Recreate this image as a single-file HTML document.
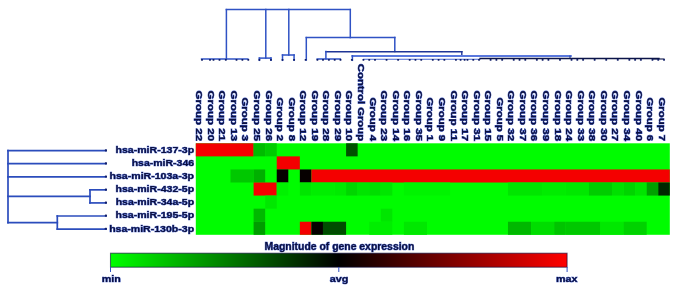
<!DOCTYPE html><html><head><meta charset="utf-8"><style>html,body{margin:0;padding:0;background:#fff;width:685px;height:287px;overflow:hidden}svg{display:block;will-change:transform;filter:blur(0.35px)}text{font-family:"Liberation Sans",sans-serif;font-weight:bold}</style></head><body>
<svg width="685" height="287" viewBox="0 0 685 287">
<rect x="0" y="0" width="685" height="287" fill="#fff"/>
<rect x="195.8" y="143.3" width="474.00" height="91.50" fill="#00fc00"/>
<rect x="195.80" y="143.30" width="57.80" height="13.07" fill="#f40000"/>
<rect x="253.60" y="143.30" width="11.56" height="13.07" fill="#00bb00"/>
<rect x="265.17" y="143.30" width="11.56" height="13.07" fill="#00cc00"/>
<rect x="346.09" y="143.30" width="11.56" height="13.07" fill="#005000"/>
<rect x="276.73" y="156.37" width="23.12" height="13.07" fill="#f40000"/>
<rect x="230.48" y="169.44" width="23.12" height="13.07" fill="#00c800"/>
<rect x="253.60" y="169.44" width="11.56" height="13.07" fill="#00b000"/>
<rect x="276.73" y="169.44" width="11.56" height="13.07" fill="#060000"/>
<rect x="299.85" y="169.44" width="11.56" height="13.07" fill="#060000"/>
<rect x="311.41" y="169.44" width="358.39" height="13.07" fill="#f40000"/>
<rect x="253.60" y="182.51" width="23.12" height="13.07" fill="#f40000"/>
<rect x="276.73" y="182.51" width="11.56" height="13.07" fill="#00f200"/>
<rect x="299.85" y="182.51" width="11.56" height="13.07" fill="#00e600"/>
<rect x="311.41" y="182.51" width="23.12" height="13.07" fill="#00ee00"/>
<rect x="334.53" y="182.51" width="11.56" height="13.07" fill="#00ea00"/>
<rect x="346.09" y="182.51" width="11.56" height="13.07" fill="#00d600"/>
<rect x="357.65" y="182.51" width="11.56" height="13.07" fill="#00e400"/>
<rect x="369.21" y="182.51" width="11.56" height="13.07" fill="#00de00"/>
<rect x="380.78" y="182.51" width="11.56" height="13.07" fill="#00e600"/>
<rect x="403.90" y="182.51" width="46.24" height="13.07" fill="#00f400"/>
<rect x="507.95" y="182.51" width="34.68" height="13.07" fill="#00e600"/>
<rect x="542.63" y="182.51" width="23.12" height="13.07" fill="#00ec00"/>
<rect x="565.75" y="182.51" width="23.12" height="13.07" fill="#00e800"/>
<rect x="588.87" y="182.51" width="23.12" height="13.07" fill="#00cc00"/>
<rect x="612.00" y="182.51" width="11.56" height="13.07" fill="#00e000"/>
<rect x="623.56" y="182.51" width="11.56" height="13.07" fill="#00d400"/>
<rect x="635.12" y="182.51" width="11.56" height="13.07" fill="#00e400"/>
<rect x="646.68" y="182.51" width="11.56" height="13.07" fill="#00a000"/>
<rect x="658.24" y="182.51" width="11.56" height="13.07" fill="#002800"/>
<rect x="265.17" y="195.59" width="11.56" height="13.07" fill="#00e800"/>
<rect x="253.60" y="208.66" width="11.56" height="13.07" fill="#00b800"/>
<rect x="380.78" y="208.66" width="11.56" height="13.07" fill="#00e600"/>
<rect x="253.60" y="221.73" width="11.56" height="13.07" fill="#009c00"/>
<rect x="299.85" y="221.73" width="11.56" height="13.07" fill="#f40000"/>
<rect x="311.41" y="221.73" width="11.56" height="13.07" fill="#060000"/>
<rect x="322.97" y="221.73" width="23.12" height="13.07" fill="#004c00"/>
<rect x="369.21" y="221.73" width="23.12" height="13.07" fill="#00ee00"/>
<rect x="403.90" y="221.73" width="23.12" height="13.07" fill="#00e800"/>
<rect x="507.95" y="221.73" width="23.12" height="13.07" fill="#00b800"/>
<rect x="531.07" y="221.73" width="23.12" height="13.07" fill="#00dd00"/>
<rect x="554.19" y="221.73" width="11.56" height="13.07" fill="#00c400"/>
<rect x="565.75" y="221.73" width="34.68" height="13.07" fill="#00c800"/>
<rect x="600.43" y="221.73" width="23.12" height="13.07" fill="#00e800"/>
<rect x="623.56" y="221.73" width="23.12" height="13.07" fill="#00d200"/>
<line x1="8" y1="150.6357142857143" x2="8" y2="222.52857142857147" stroke="#2b4cbc" stroke-width="1.7" stroke-linecap="square"/>
<line x1="8" y1="150.6357142857143" x2="106" y2="150.6357142857143" stroke="#2b4cbc" stroke-width="1.7" stroke-linecap="square"/>
<line x1="8" y1="163.70714285714288" x2="106" y2="163.70714285714288" stroke="#2b4cbc" stroke-width="1.7" stroke-linecap="square"/>
<line x1="8" y1="176.77857142857147" x2="106" y2="176.77857142857147" stroke="#2b4cbc" stroke-width="1.7" stroke-linecap="square"/>
<line x1="8" y1="196.3857142857143" x2="90" y2="196.3857142857143" stroke="#2b4cbc" stroke-width="1.7" stroke-linecap="square"/>
<line x1="90" y1="189.85000000000002" x2="90" y2="202.92142857142858" stroke="#2b4cbc" stroke-width="1.7" stroke-linecap="square"/>
<line x1="90" y1="189.85000000000002" x2="106" y2="189.85000000000002" stroke="#2b4cbc" stroke-width="1.7" stroke-linecap="square"/>
<line x1="90" y1="202.92142857142858" x2="106" y2="202.92142857142858" stroke="#2b4cbc" stroke-width="1.7" stroke-linecap="square"/>
<line x1="8" y1="222.52857142857147" x2="57.3" y2="222.52857142857147" stroke="#2b4cbc" stroke-width="1.7" stroke-linecap="square"/>
<line x1="57.3" y1="215.99285714285716" x2="57.3" y2="229.06428571428575" stroke="#2b4cbc" stroke-width="1.7" stroke-linecap="square"/>
<line x1="57.3" y1="215.99285714285716" x2="106" y2="215.99285714285716" stroke="#2b4cbc" stroke-width="1.7" stroke-linecap="square"/>
<line x1="57.3" y1="229.06428571428575" x2="106" y2="229.06428571428575" stroke="#2b4cbc" stroke-width="1.7" stroke-linecap="square"/>
<rect x="104.8" y="149.2357142857143" width="2.2" height="2.2" rx="0.7" fill="#14206a"/>
<rect x="104.8" y="162.30714285714288" width="2.2" height="2.2" rx="0.7" fill="#14206a"/>
<rect x="104.8" y="175.37857142857146" width="2.2" height="2.2" rx="0.7" fill="#14206a"/>
<rect x="104.8" y="188.45000000000002" width="2.2" height="2.2" rx="0.7" fill="#14206a"/>
<rect x="104.8" y="201.52142857142857" width="2.2" height="2.2" rx="0.7" fill="#14206a"/>
<rect x="104.8" y="214.59285714285716" width="2.2" height="2.2" rx="0.7" fill="#14206a"/>
<rect x="104.8" y="227.66428571428574" width="2.2" height="2.2" rx="0.7" fill="#14206a"/>
<line x1="226.4" y1="9.6" x2="350.3" y2="9.6" stroke="#2f52c4" stroke-width="1.5" stroke-linecap="square"/>
<line x1="226.4" y1="9.6" x2="226.4" y2="59" stroke="#2f52c4" stroke-width="1.5" stroke-linecap="square"/>
<line x1="265.8" y1="9.6" x2="265.8" y2="58.1" stroke="#2f52c4" stroke-width="1.5" stroke-linecap="square"/>
<line x1="288.8" y1="9.6" x2="288.8" y2="55.0" stroke="#2f52c4" stroke-width="1.5" stroke-linecap="square"/>
<line x1="350.3" y1="9.6" x2="350.3" y2="37.6" stroke="#2f52c4" stroke-width="1.5" stroke-linecap="square"/>
<line x1="201.58048780487806" y1="59.1" x2="247.82439024390243" y2="59.1" stroke="#2f52c4" stroke-width="1.5" stroke-linecap="square"/>
<line x1="259.3853658536585" y1="58.1" x2="270.9463414634146" y2="58.1" stroke="#2f52c4" stroke-width="1.5" stroke-linecap="square"/>
<line x1="259.3853658536585" y1="58.1" x2="259.3853658536585" y2="60.3" stroke="#2f52c4" stroke-width="1.5" stroke-linecap="square"/>
<line x1="270.9463414634146" y1="58.1" x2="270.9463414634146" y2="60.3" stroke="#2f52c4" stroke-width="1.5" stroke-linecap="square"/>
<line x1="282.5073170731707" y1="55.0" x2="294.0682926829268" y2="55.0" stroke="#2f52c4" stroke-width="1.5" stroke-linecap="square"/>
<line x1="282.5073170731707" y1="55.0" x2="282.5073170731707" y2="60.3" stroke="#2f52c4" stroke-width="1.5" stroke-linecap="square"/>
<line x1="294.0682926829268" y1="55.0" x2="294.0682926829268" y2="60.3" stroke="#2f52c4" stroke-width="1.5" stroke-linecap="square"/>
<line x1="306.3" y1="37.6" x2="394.8" y2="37.6" stroke="#2f52c4" stroke-width="1.5" stroke-linecap="square"/>
<line x1="306.3" y1="37.6" x2="306.3" y2="60" stroke="#2f52c4" stroke-width="1.5" stroke-linecap="square"/>
<line x1="394.8" y1="37.6" x2="394.8" y2="51.6" stroke="#2f52c4" stroke-width="1.5" stroke-linecap="square"/>
<line x1="325.9" y1="51.8" x2="461.8" y2="51.8" stroke="#1f3596" stroke-width="1.6" stroke-linecap="square"/>
<line x1="325.9" y1="51.6" x2="325.9" y2="58.8" stroke="#2f52c4" stroke-width="1.5" stroke-linecap="square"/>
<line x1="317.190243902439" y1="59.0" x2="340.31219512195116" y2="59.0" stroke="#2f52c4" stroke-width="1.5" stroke-linecap="square"/>
<line x1="461.8" y1="51.6" x2="461.8" y2="55.8" stroke="#1f3596" stroke-width="1.4" stroke-linecap="square"/>
<line x1="352.4" y1="56.0" x2="570.8" y2="56.0" stroke="#5a78dd" stroke-width="2.0" stroke-linecap="square"/>
<line x1="570" y1="56.0" x2="570" y2="58.5" stroke="#2a45a8" stroke-width="1.2" stroke-linecap="square"/>
<line x1="352.4" y1="55.8" x2="352.4" y2="60.3" stroke="#2f52c4" stroke-width="1.5" stroke-linecap="square"/>
<line x1="363.43414634146336" y1="59.2" x2="480" y2="59.2" stroke="#4a68d0" stroke-width="1.1" stroke-linecap="square"/>
<line x1="480" y1="58.5" x2="659" y2="58.5" stroke="#0c1448" stroke-width="1.3" stroke-linecap="square"/>
<line x1="653" y1="59.0" x2="664.0195121951219" y2="59.0" stroke="#0c1448" stroke-width="1.1" stroke-linecap="square"/>
<rect x="201.00" y="58.9" width="2" height="1.8" rx="0.6" fill="#0e1c66"/>
<rect x="209.00" y="58.9" width="2" height="1.8" rx="0.6" fill="#0e1c66"/>
<rect x="212.50" y="58.9" width="2" height="1.8" rx="0.6" fill="#0e1c66"/>
<rect x="218.50" y="58.9" width="2" height="1.8" rx="0.6" fill="#0e1c66"/>
<rect x="224.80" y="58.9" width="2" height="1.8" rx="0.6" fill="#0e1c66"/>
<rect x="235.50" y="58.9" width="2" height="1.8" rx="0.6" fill="#0e1c66"/>
<rect x="241.40" y="58.9" width="2" height="1.8" rx="0.6" fill="#0e1c66"/>
<rect x="247.30" y="58.9" width="2" height="1.8" rx="0.6" fill="#0e1c66"/>
<rect x="258.39" y="58.9" width="2" height="1.8" rx="0.6" fill="#0e1c66"/>
<rect x="269.95" y="58.9" width="2" height="1.8" rx="0.6" fill="#0e1c66"/>
<rect x="281.51" y="58.9" width="2" height="1.8" rx="0.6" fill="#0e1c66"/>
<rect x="293.07" y="58.9" width="2" height="1.8" rx="0.6" fill="#0e1c66"/>
<rect x="304.63" y="58.9" width="2" height="1.8" rx="0.6" fill="#0e1c66"/>
<rect x="350.87" y="58.9" width="2" height="1.8" rx="0.6" fill="#0e1c66"/>
<rect x="316.40" y="58.9" width="2" height="1.8" rx="0.6" fill="#0e1c66"/>
<rect x="322.00" y="58.9" width="2" height="1.8" rx="0.6" fill="#0e1c66"/>
<rect x="327.90" y="58.9" width="2" height="1.8" rx="0.6" fill="#0e1c66"/>
<rect x="333.70" y="58.9" width="2" height="1.8" rx="0.6" fill="#0e1c66"/>
<rect x="339.50" y="58.9" width="2" height="1.8" rx="0.6" fill="#0e1c66"/>
<rect x="362.43" y="58.9" width="2" height="1.8" rx="0.6" fill="#0e1c66"/>
<rect x="374.00" y="58.9" width="2" height="1.8" rx="0.6" fill="#0e1c66"/>
<rect x="385.56" y="58.9" width="2" height="1.8" rx="0.6" fill="#0e1c66"/>
<rect x="397.12" y="58.9" width="2" height="1.8" rx="0.6" fill="#0e1c66"/>
<rect x="408.68" y="58.9" width="2" height="1.8" rx="0.6" fill="#0e1c66"/>
<rect x="420.24" y="58.9" width="2" height="1.8" rx="0.6" fill="#0e1c66"/>
<rect x="431.80" y="58.9" width="2" height="1.8" rx="0.6" fill="#0e1c66"/>
<rect x="443.36" y="58.9" width="2" height="1.8" rx="0.6" fill="#0e1c66"/>
<rect x="454.92" y="58.9" width="2" height="1.8" rx="0.6" fill="#0e1c66"/>
<rect x="466.48" y="58.9" width="2" height="1.8" rx="0.6" fill="#0e1c66"/>
<rect x="478.04" y="58.9" width="2" height="1.8" rx="0.6" fill="#0e1c66"/>
<rect x="489.60" y="58.9" width="2" height="1.8" rx="0.6" fill="#0e1c66"/>
<rect x="501.17" y="58.9" width="2" height="1.8" rx="0.6" fill="#0e1c66"/>
<rect x="512.73" y="58.9" width="2" height="1.8" rx="0.6" fill="#0e1c66"/>
<rect x="524.29" y="58.9" width="2" height="1.8" rx="0.6" fill="#0e1c66"/>
<rect x="535.85" y="58.9" width="2" height="1.8" rx="0.6" fill="#0e1c66"/>
<rect x="547.41" y="58.9" width="2" height="1.8" rx="0.6" fill="#0e1c66"/>
<rect x="558.97" y="58.9" width="2" height="1.8" rx="0.6" fill="#0e1c66"/>
<rect x="570.53" y="58.9" width="2" height="1.8" rx="0.6" fill="#0e1c66"/>
<rect x="582.09" y="58.9" width="2" height="1.8" rx="0.6" fill="#0e1c66"/>
<rect x="593.65" y="58.9" width="2" height="1.8" rx="0.6" fill="#0e1c66"/>
<rect x="605.21" y="58.9" width="2" height="1.8" rx="0.6" fill="#0e1c66"/>
<rect x="616.78" y="58.9" width="2" height="1.8" rx="0.6" fill="#0e1c66"/>
<rect x="628.34" y="58.9" width="2" height="1.8" rx="0.6" fill="#0e1c66"/>
<rect x="639.90" y="58.9" width="2" height="1.8" rx="0.6" fill="#0e1c66"/>
<rect x="651.46" y="58.9" width="2" height="1.8" rx="0.6" fill="#0e1c66"/>
<rect x="663.02" y="58.9" width="2" height="1.8" rx="0.6" fill="#0e1c66"/>
<rect x="368.21" y="58.9" width="2" height="1.8" rx="0.6" fill="#0e1c66"/>
<rect x="414.46" y="58.9" width="2" height="1.8" rx="0.6" fill="#0e1c66"/>
<rect x="437.58" y="58.9" width="2" height="1.8" rx="0.6" fill="#0e1c66"/>
<rect x="472.26" y="58.9" width="2" height="1.8" rx="0.6" fill="#0e1c66"/>
<rect x="495.39" y="58.9" width="2" height="1.8" rx="0.6" fill="#0e1c66"/>
<rect x="518.51" y="58.9" width="2" height="1.8" rx="0.6" fill="#0e1c66"/>
<rect x="541.63" y="58.9" width="2" height="1.8" rx="0.6" fill="#0e1c66"/>
<rect x="576.31" y="58.9" width="2" height="1.8" rx="0.6" fill="#0e1c66"/>
<rect x="634.12" y="58.9" width="2" height="1.8" rx="0.6" fill="#0e1c66"/>
<rect x="657.24" y="58.9" width="2" height="1.8" rx="0.6" fill="#0e1c66"/>
<rect x="459.60" y="58.9" width="2" height="1.8" rx="0.6" fill="#0e1c66"/>
<rect x="463.60" y="58.9" width="2" height="1.8" rx="0.6" fill="#0e1c66"/>
<text transform="translate(196.20,141.1) rotate(90)" text-anchor="end" font-size="8.7" fill="#0b1040" textLength="50.49" lengthAdjust="spacingAndGlyphs" stroke="#3552c4" stroke-width="0.65" paint-order="stroke">Group 22</text>
<text transform="translate(207.76,141.1) rotate(90)" text-anchor="end" font-size="8.7" fill="#0b1040" textLength="50.49" lengthAdjust="spacingAndGlyphs" stroke="#3552c4" stroke-width="0.65" paint-order="stroke">Group 20</text>
<text transform="translate(219.32,141.1) rotate(90)" text-anchor="end" font-size="8.7" fill="#0b1040" textLength="50.49" lengthAdjust="spacingAndGlyphs" stroke="#3552c4" stroke-width="0.65" paint-order="stroke">Group 21</text>
<text transform="translate(230.88,141.1) rotate(90)" text-anchor="end" font-size="8.7" fill="#0b1040" textLength="50.49" lengthAdjust="spacingAndGlyphs" stroke="#3552c4" stroke-width="0.65" paint-order="stroke">Group 13</text>
<text transform="translate(242.44,141.1) rotate(90)" text-anchor="end" font-size="8.7" fill="#0b1040" textLength="43.70" lengthAdjust="spacingAndGlyphs" stroke="#3552c4" stroke-width="0.65" paint-order="stroke">Group 3</text>
<text transform="translate(254.00,141.1) rotate(90)" text-anchor="end" font-size="8.7" fill="#0b1040" textLength="50.49" lengthAdjust="spacingAndGlyphs" stroke="#3552c4" stroke-width="0.65" paint-order="stroke">Group 25</text>
<text transform="translate(265.57,141.1) rotate(90)" text-anchor="end" font-size="8.7" fill="#0b1040" textLength="50.49" lengthAdjust="spacingAndGlyphs" stroke="#3552c4" stroke-width="0.65" paint-order="stroke">Group 26</text>
<text transform="translate(277.13,141.1) rotate(90)" text-anchor="end" font-size="8.7" fill="#0b1040" textLength="43.70" lengthAdjust="spacingAndGlyphs" stroke="#3552c4" stroke-width="0.65" paint-order="stroke">Group 2</text>
<text transform="translate(288.69,141.1) rotate(90)" text-anchor="end" font-size="8.7" fill="#0b1040" textLength="43.70" lengthAdjust="spacingAndGlyphs" stroke="#3552c4" stroke-width="0.65" paint-order="stroke">Group 8</text>
<text transform="translate(300.25,141.1) rotate(90)" text-anchor="end" font-size="8.7" fill="#0b1040" textLength="50.49" lengthAdjust="spacingAndGlyphs" stroke="#3552c4" stroke-width="0.65" paint-order="stroke">Group 12</text>
<text transform="translate(311.81,141.1) rotate(90)" text-anchor="end" font-size="8.7" fill="#0b1040" textLength="50.49" lengthAdjust="spacingAndGlyphs" stroke="#3552c4" stroke-width="0.65" paint-order="stroke">Group 19</text>
<text transform="translate(323.37,141.1) rotate(90)" text-anchor="end" font-size="8.7" fill="#0b1040" textLength="50.49" lengthAdjust="spacingAndGlyphs" stroke="#3552c4" stroke-width="0.65" paint-order="stroke">Group 28</text>
<text transform="translate(334.93,141.1) rotate(90)" text-anchor="end" font-size="8.7" fill="#0b1040" textLength="50.49" lengthAdjust="spacingAndGlyphs" stroke="#3552c4" stroke-width="0.65" paint-order="stroke">Group 29</text>
<text transform="translate(346.49,141.1) rotate(90)" text-anchor="end" font-size="8.7" fill="#0b1040" textLength="50.49" lengthAdjust="spacingAndGlyphs" stroke="#3552c4" stroke-width="0.65" paint-order="stroke">Group 10</text>
<text transform="translate(358.05,141.1) rotate(90)" text-anchor="end" font-size="8.7" fill="#0b1040" textLength="77.29" lengthAdjust="spacingAndGlyphs" stroke="#3552c4" stroke-width="0.65" paint-order="stroke">Control Group</text>
<text transform="translate(369.61,141.1) rotate(90)" text-anchor="end" font-size="8.7" fill="#0b1040" textLength="43.70" lengthAdjust="spacingAndGlyphs" stroke="#3552c4" stroke-width="0.65" paint-order="stroke">Group 4</text>
<text transform="translate(381.18,141.1) rotate(90)" text-anchor="end" font-size="8.7" fill="#0b1040" textLength="50.49" lengthAdjust="spacingAndGlyphs" stroke="#3552c4" stroke-width="0.65" paint-order="stroke">Group 23</text>
<text transform="translate(392.74,141.1) rotate(90)" text-anchor="end" font-size="8.7" fill="#0b1040" textLength="50.49" lengthAdjust="spacingAndGlyphs" stroke="#3552c4" stroke-width="0.65" paint-order="stroke">Group 14</text>
<text transform="translate(404.30,141.1) rotate(90)" text-anchor="end" font-size="8.7" fill="#0b1040" textLength="50.49" lengthAdjust="spacingAndGlyphs" stroke="#3552c4" stroke-width="0.65" paint-order="stroke">Group 16</text>
<text transform="translate(415.86,141.1) rotate(90)" text-anchor="end" font-size="8.7" fill="#0b1040" textLength="50.49" lengthAdjust="spacingAndGlyphs" stroke="#3552c4" stroke-width="0.65" paint-order="stroke">Group 35</text>
<text transform="translate(427.42,141.1) rotate(90)" text-anchor="end" font-size="8.7" fill="#0b1040" textLength="43.70" lengthAdjust="spacingAndGlyphs" stroke="#3552c4" stroke-width="0.65" paint-order="stroke">Group 1</text>
<text transform="translate(438.98,141.1) rotate(90)" text-anchor="end" font-size="8.7" fill="#0b1040" textLength="43.70" lengthAdjust="spacingAndGlyphs" stroke="#3552c4" stroke-width="0.65" paint-order="stroke">Group 9</text>
<text transform="translate(450.54,141.1) rotate(90)" text-anchor="end" font-size="8.7" fill="#0b1040" textLength="50.49" lengthAdjust="spacingAndGlyphs" stroke="#3552c4" stroke-width="0.65" paint-order="stroke">Group 11</text>
<text transform="translate(462.10,141.1) rotate(90)" text-anchor="end" font-size="8.7" fill="#0b1040" textLength="50.49" lengthAdjust="spacingAndGlyphs" stroke="#3552c4" stroke-width="0.65" paint-order="stroke">Group 17</text>
<text transform="translate(473.66,141.1) rotate(90)" text-anchor="end" font-size="8.7" fill="#0b1040" textLength="50.49" lengthAdjust="spacingAndGlyphs" stroke="#3552c4" stroke-width="0.65" paint-order="stroke">Group 31</text>
<text transform="translate(485.22,141.1) rotate(90)" text-anchor="end" font-size="8.7" fill="#0b1040" textLength="50.49" lengthAdjust="spacingAndGlyphs" stroke="#3552c4" stroke-width="0.65" paint-order="stroke">Group 15</text>
<text transform="translate(496.79,141.1) rotate(90)" text-anchor="end" font-size="8.7" fill="#0b1040" textLength="43.70" lengthAdjust="spacingAndGlyphs" stroke="#3552c4" stroke-width="0.65" paint-order="stroke">Group 5</text>
<text transform="translate(508.35,141.1) rotate(90)" text-anchor="end" font-size="8.7" fill="#0b1040" textLength="50.49" lengthAdjust="spacingAndGlyphs" stroke="#3552c4" stroke-width="0.65" paint-order="stroke">Group 32</text>
<text transform="translate(519.91,141.1) rotate(90)" text-anchor="end" font-size="8.7" fill="#0b1040" textLength="50.49" lengthAdjust="spacingAndGlyphs" stroke="#3552c4" stroke-width="0.65" paint-order="stroke">Group 37</text>
<text transform="translate(531.47,141.1) rotate(90)" text-anchor="end" font-size="8.7" fill="#0b1040" textLength="50.49" lengthAdjust="spacingAndGlyphs" stroke="#3552c4" stroke-width="0.65" paint-order="stroke">Group 36</text>
<text transform="translate(543.03,141.1) rotate(90)" text-anchor="end" font-size="8.7" fill="#0b1040" textLength="50.49" lengthAdjust="spacingAndGlyphs" stroke="#3552c4" stroke-width="0.65" paint-order="stroke">Group 39</text>
<text transform="translate(554.59,141.1) rotate(90)" text-anchor="end" font-size="8.7" fill="#0b1040" textLength="50.49" lengthAdjust="spacingAndGlyphs" stroke="#3552c4" stroke-width="0.65" paint-order="stroke">Group 18</text>
<text transform="translate(566.15,141.1) rotate(90)" text-anchor="end" font-size="8.7" fill="#0b1040" textLength="50.49" lengthAdjust="spacingAndGlyphs" stroke="#3552c4" stroke-width="0.65" paint-order="stroke">Group 24</text>
<text transform="translate(577.71,141.1) rotate(90)" text-anchor="end" font-size="8.7" fill="#0b1040" textLength="50.49" lengthAdjust="spacingAndGlyphs" stroke="#3552c4" stroke-width="0.65" paint-order="stroke">Group 33</text>
<text transform="translate(589.27,141.1) rotate(90)" text-anchor="end" font-size="8.7" fill="#0b1040" textLength="50.49" lengthAdjust="spacingAndGlyphs" stroke="#3552c4" stroke-width="0.65" paint-order="stroke">Group 38</text>
<text transform="translate(600.83,141.1) rotate(90)" text-anchor="end" font-size="8.7" fill="#0b1040" textLength="50.49" lengthAdjust="spacingAndGlyphs" stroke="#3552c4" stroke-width="0.65" paint-order="stroke">Group 30</text>
<text transform="translate(612.40,141.1) rotate(90)" text-anchor="end" font-size="8.7" fill="#0b1040" textLength="50.49" lengthAdjust="spacingAndGlyphs" stroke="#3552c4" stroke-width="0.65" paint-order="stroke">Group 27</text>
<text transform="translate(623.96,141.1) rotate(90)" text-anchor="end" font-size="8.7" fill="#0b1040" textLength="50.49" lengthAdjust="spacingAndGlyphs" stroke="#3552c4" stroke-width="0.65" paint-order="stroke">Group 34</text>
<text transform="translate(635.52,141.1) rotate(90)" text-anchor="end" font-size="8.7" fill="#0b1040" textLength="50.49" lengthAdjust="spacingAndGlyphs" stroke="#3552c4" stroke-width="0.65" paint-order="stroke">Group 40</text>
<text transform="translate(647.08,141.1) rotate(90)" text-anchor="end" font-size="8.7" fill="#0b1040" textLength="43.70" lengthAdjust="spacingAndGlyphs" stroke="#3552c4" stroke-width="0.65" paint-order="stroke">Group 6</text>
<text transform="translate(658.64,141.1) rotate(90)" text-anchor="end" font-size="8.7" fill="#0b1040" textLength="43.70" lengthAdjust="spacingAndGlyphs" stroke="#3552c4" stroke-width="0.65" paint-order="stroke">Group 7</text>
<text x="115.51" y="153.14" font-size="9.4" fill="#0b1040" textLength="78.59" lengthAdjust="spacingAndGlyphs" stroke="#3552c4" stroke-width="0.65" paint-order="stroke">hsa-miR-137-3p</text>
<text x="131.67" y="166.21" font-size="9.4" fill="#0b1040" textLength="62.43" lengthAdjust="spacingAndGlyphs" stroke="#3552c4" stroke-width="0.65" paint-order="stroke">hsa-miR-346</text>
<text x="109.53" y="179.28" font-size="9.4" fill="#0b1040" textLength="84.57" lengthAdjust="spacingAndGlyphs" stroke="#3552c4" stroke-width="0.65" paint-order="stroke">hsa-miR-103a-3p</text>
<text x="115.51" y="192.35" font-size="9.4" fill="#0b1040" textLength="78.59" lengthAdjust="spacingAndGlyphs" stroke="#3552c4" stroke-width="0.65" paint-order="stroke">hsa-miR-432-5p</text>
<text x="115.69" y="205.42" font-size="9.4" fill="#0b1040" textLength="78.41" lengthAdjust="spacingAndGlyphs" stroke="#3552c4" stroke-width="0.65" paint-order="stroke">hsa-miR-34a-5p</text>
<text x="115.51" y="218.49" font-size="9.4" fill="#0b1040" textLength="78.59" lengthAdjust="spacingAndGlyphs" stroke="#3552c4" stroke-width="0.65" paint-order="stroke">hsa-miR-195-5p</text>
<text x="109.17" y="231.56" font-size="9.4" fill="#0b1040" textLength="84.93" lengthAdjust="spacingAndGlyphs" stroke="#3552c4" stroke-width="0.65" paint-order="stroke">hsa-miR-130b-3p</text>
<text x="264.51" y="250" font-size="10.0" fill="#0b1040" textLength="149.78" lengthAdjust="spacingAndGlyphs" stroke="#3552c4" stroke-width="0.65" paint-order="stroke">Magnitude of gene expression</text>
<defs><linearGradient id="cb" x1="0" x2="1" y1="0" y2="0"><stop offset="0" stop-color="#00ff00"/><stop offset="0.5" stop-color="#000000"/><stop offset="1" stop-color="#ff0000"/></linearGradient></defs>
<rect x="110.5" y="253.2" width="456.6" height="14" fill="url(#cb)" stroke="rgba(10,10,60,0.6)" stroke-width="1.1"/>
<line x1="110.5" y1="267.5" x2="110.5" y2="271.5" stroke="#2f52c4" stroke-width="1" stroke-linecap="square"/>
<line x1="338.8" y1="267.5" x2="338.8" y2="271.5" stroke="#2f52c4" stroke-width="1" stroke-linecap="square"/>
<line x1="567.1" y1="267.5" x2="567.1" y2="271.5" stroke="#2f52c4" stroke-width="1" stroke-linecap="square"/>
<text x="101.76" y="282.3" font-size="9.8" fill="#0b1040" textLength="19.08" lengthAdjust="spacingAndGlyphs" stroke="#3552c4" stroke-width="0.65" paint-order="stroke">min</text>
<text x="329.71" y="282.3" font-size="9.8" fill="#0b1040" textLength="18.59" lengthAdjust="spacingAndGlyphs" stroke="#3552c4" stroke-width="0.65" paint-order="stroke">avg</text>
<text x="555.95" y="282.3" font-size="9.8" fill="#0b1040" textLength="21.49" lengthAdjust="spacingAndGlyphs" stroke="#3552c4" stroke-width="0.65" paint-order="stroke">max</text>
</svg></body></html>
